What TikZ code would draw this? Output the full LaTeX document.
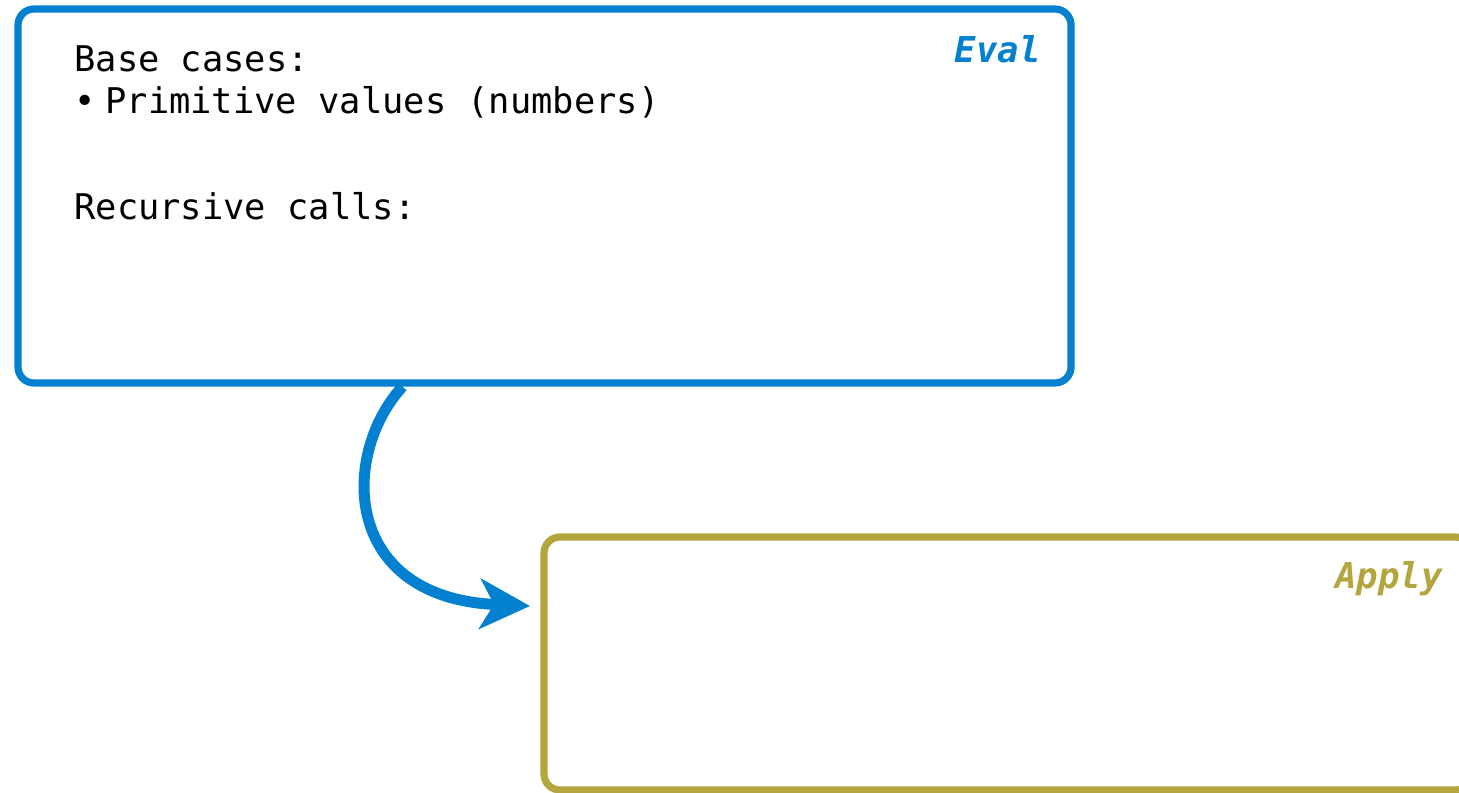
\documentclass[tikz,border=0pt]{standalone}
\usepackage{fontspec}
\setmonofont{DejaVu Sans Mono}
\usetikzlibrary{arrows.meta,calc}
\definecolor{evalblue}{RGB}{3,128,208}
\definecolor{applyolive}{RGB}{179,166,62}
\begin{document}
\begin{tikzpicture}[x=0.5pt,y=-0.5pt,
  panel/.style={draw, line width=3.6pt, rounded corners=8pt, inner sep=0pt, fill=none},
  body/.style={font=\ttfamily\fontsize{17.7pt}{21pt}\selectfont, inner sep=0pt, anchor=base west, text=black},
  tag/.style={font=\ttfamily\bfseries\itshape\fontsize{17.8pt}{21pt}\selectfont, inner sep=0pt, anchor=base east},
  flow/.style={draw=evalblue, line width=5.5pt, -{Stealth[length=25pt, width=25pt, inset=7pt]}}]
\useasboundingbox (0,0) rectangle (1459,792);
\fill[white] (0,0) rectangle (1459,792);
% panels
\node[panel, draw=evalblue, minimum width=526.5pt, minimum height=187pt] (eval) at (544.5,196) {};
\node[panel, draw=applyolive, minimum width=464pt, minimum height=126.5pt] (apply) at (1008,663.5) {};
% texts
\node[body] (base) at (74,72) {Base cases:};
\node[body, anchor=base] (bullet) at (85,113) {•};
\node[body] (prim) at (105,113) {Primitive values (numbers)};
\node[body] (rec) at (74,219) {Recursive calls:};
\node[tag, text=evalblue] (evaltag) at (1041,62.5) {Eval};
\node[tag, text=applyolive] (applytag) at (1443,588.5) {Apply};
% connector
\coordinate (from) at ($(eval.south west)!0.366!(eval.south east)$);
\coordinate (to) at (530,606);
\draw[flow] (from) .. controls (340,455) and (342,598) .. (to);
\end{tikzpicture}
\end{document}
